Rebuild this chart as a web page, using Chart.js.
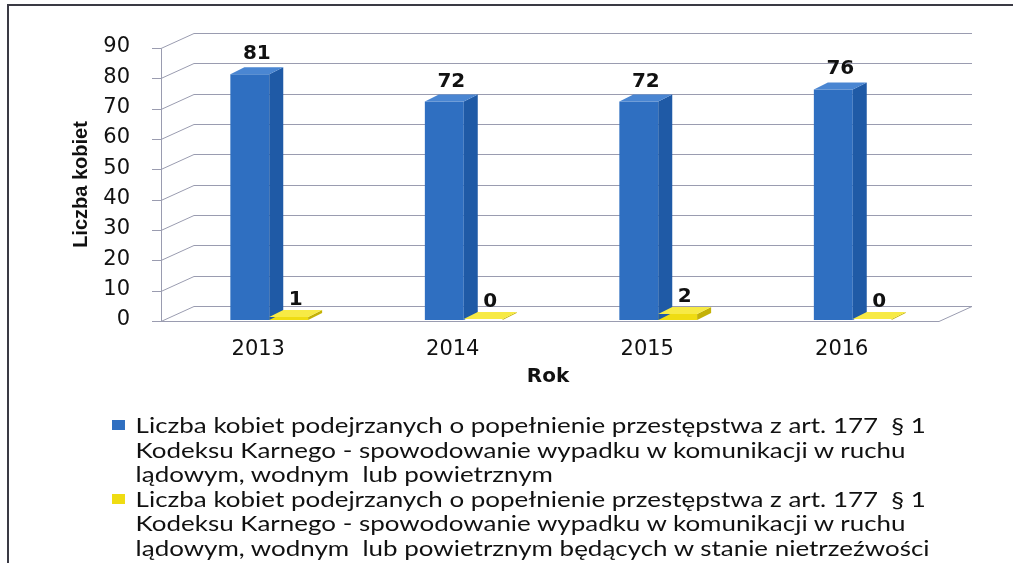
<!DOCTYPE html>
<html lang="pl">
<head>
<meta charset="utf-8">
<title>Liczba kobiet podejrzanych – art. 177 § 1 KK</title>
<script src="https://cdn.jsdelivr.net/npm/chart.js@4.4.1/dist/chart.umd.min.js"></script>
<style>
  html, body { margin: 0; padding: 0; background: #ffffff; }
  #wrap { position: relative; width: 1013px; height: 563px; overflow: hidden; }
  #frame { position: absolute; left: 7px; top: 4px; width: 1020px; height: 570px;
           border-top: 2px solid #3a3a44; border-left: 2px solid #3a3a44; }
  #legend { position: absolute; left: 112px; top: 413px; font-family: Lato, "Open Sans", sans-serif;
            font-size: 22px; line-height: 24.6px; color: #111;
            transform: scaleX(1.18); transform-origin: 0 0; }
  .item { position: relative; padding-left: 20px; white-space: pre; }
  .swatch { position: absolute; left: 0; top: 7px; width: 11px; height: 10px; }
</style>
</head>
<body>
<div id="wrap">
  <canvas id="chart" width="1013" height="563"></canvas>
  <div id="frame"></div>
  <div id="legend"></div>
</div>
<script>
// Lata i liczby kobiet podejrzanych
const years = ['2013', '2014', '2015', '2016'];
const suspectsAll = [81, 72, 72, 76];
const suspectsDrunk = [1, 0, 2, 0];
const yTicks = [0, 10, 20, 30, 40, 50, 60, 70, 80, 90];

const legendLines = [
  ['Liczba kobiet podejrzanych o popełnienie przestępstwa z art. 177  § 1',
   'Kodeksu Karnego - spowodowanie wypadku w komunikacji w ruchu',
   'lądowym, wodnym  lub powietrznym'],
  ['Liczba kobiet podejrzanych o popełnienie przestępstwa z art. 177  § 1',
   'Kodeksu Karnego - spowodowanie wypadku w komunikacji w ruchu',
   'lądowym, wodnym  lub powietrznym będących w stanie nietrzeźwości']
];

// front / side / top face colours for the pseudo-3D columns
const faces = [
  { front: '#2f6fc1', side: '#1f5aa6', top: '#4a86d2' },
  { front: '#efdc12', side: '#c4b208', top: '#f7ea45' }
];

// offsets of the front plane and back wall relative to the bar plane
const FRONT = { dx: -11, dy: 1 };
const BACK = { dx: 22, dy: -14 };
const BAR_DEPTH = { dx: 14, dy: -7 };
const GRID = '#9a9cb0';

const wallPlugin = {
  id: 'wall3d',
  beforeDatasetsDraw(chart) {
    const { ctx, chartArea: a, scales: { y } } = chart;
    ctx.save();
    ctx.strokeStyle = GRID;
    ctx.lineWidth = 1;
    ctx.beginPath();
    yTicks.forEach(v => {
      const py = Math.round(y.getPixelForValue(v)) + 0.5;
      // back wall line
      ctx.moveTo(a.left + BACK.dx, py + BACK.dy);
      ctx.lineTo(a.right + BACK.dx, py + BACK.dy);
      // side diagonal from the front axis
      ctx.moveTo(a.left + FRONT.dx, py + FRONT.dy);
      ctx.lineTo(a.left + BACK.dx, py + BACK.dy);
      // tick mark on the front axis
      ctx.moveTo(a.left + FRONT.dx - 9, py + FRONT.dy);
      ctx.lineTo(a.left + FRONT.dx, py + FRONT.dy);
    });
    const top = Math.round(y.getPixelForValue(yTicks[yTicks.length - 1])) + 0.5;
    const zero = Math.round(y.getPixelForValue(0)) + 0.5;
    // front vertical axis
    ctx.moveTo(a.left + FRONT.dx + 0.5, top + FRONT.dy);
    ctx.lineTo(a.left + FRONT.dx + 0.5, zero + FRONT.dy);
    // floor front edge and right side
    ctx.moveTo(a.left + FRONT.dx, zero + FRONT.dy);
    ctx.lineTo(a.right + FRONT.dx, zero + FRONT.dy);
    ctx.lineTo(a.right + BACK.dx, zero + BACK.dy);
    ctx.stroke();
    ctx.restore();
  },
  afterDatasetsDraw(chart) {
    const { ctx } = chart;
    ctx.save();
    chart.data.datasets.forEach((ds, di) => {
      const meta = chart.getDatasetMeta(di);
      const f = faces[di];
      meta.data.forEach((bar, i) => {
        const { x, y, base, width } = bar.getProps(['x', 'y', 'base', 'width'], true);
        const l = x - width / 2, r = x + width / 2;
        const t = Math.min(y, base - 1);
        // side face
        ctx.fillStyle = f.side;
        ctx.beginPath();
        ctx.moveTo(r, t);
        ctx.lineTo(r + BAR_DEPTH.dx, t + BAR_DEPTH.dy);
        ctx.lineTo(r + BAR_DEPTH.dx, base + BAR_DEPTH.dy);
        ctx.lineTo(r, base);
        ctx.closePath();
        ctx.fill();
        // top face
        ctx.fillStyle = f.top;
        ctx.beginPath();
        ctx.moveTo(l, t);
        ctx.lineTo(l + BAR_DEPTH.dx, t + BAR_DEPTH.dy);
        ctx.lineTo(r + BAR_DEPTH.dx, t + BAR_DEPTH.dy);
        ctx.lineTo(r, t);
        ctx.closePath();
        ctx.fill();
        // value label
        ctx.fillStyle = '#111';
        ctx.font = 'bold 20px "DejaVu Sans", sans-serif';
        ctx.textAlign = 'center';
        ctx.textBaseline = 'alphabetic';
        const lift = di === 0 ? 8 : 5;
        ctx.fillText(String(ds.data[i]), x + 7, t + BAR_DEPTH.dy - lift);
      });
    });
    ctx.restore();
  },
  afterDraw(chart) {
    const { ctx, chartArea: a } = chart;
    ctx.save();
    ctx.fillStyle = '#111';
    ctx.textAlign = 'center';
    ctx.textBaseline = 'middle';
    ctx.font = 'bold 20px "DejaVu Sans", sans-serif';
    ctx.fillText('Rok', (a.left + a.right) / 2 - 13, 377);
    ctx.translate(81, (a.top + a.bottom) / 2 + 1);
    ctx.rotate(-Math.PI / 2);
    ctx.font = 'bold 20px "Liberation Sans Narrow", "Liberation Sans", sans-serif';
    ctx.fillText('Liczba kobiet', 0, 0);
    ctx.restore();
  }
};

new Chart(document.getElementById('chart'), {
  type: 'bar',
  data: {
    labels: years,
    datasets: [
      { label: legendLines[0].join(' '), data: suspectsAll, backgroundColor: faces[0].front,
        categoryPercentage: 0.4, barPercentage: 1.0 },
      { label: legendLines[1].join(' '), data: suspectsDrunk, backgroundColor: faces[1].front,
        categoryPercentage: 0.4, barPercentage: 1.0, minBarLength: 0 }
    ]
  },
  options: {
    responsive: false,
    animation: false,
    layout: { padding: { left: 0, top: 47, right: 63, bottom: 0 } },
    plugins: { legend: { display: false }, tooltip: { enabled: false } },
    scales: {
      x: {
        grid: { display: false },
        border: { display: false },
        ticks: { color: '#111', font: { family: '"DejaVu Sans", sans-serif', size: 21 },
                 padding: 9, labelOffset: -11, maxRotation: 0 },
        afterFit(s) { s.height = 243; }
      },
      y: {
        min: 0, max: 90,
        grid: { display: false },
        border: { display: false },
        afterBuildTicks(s) { s.ticks = yTicks.map(v => ({ value: v })); },
        ticks: { color: '#111', font: { family: '"DejaVu Sans", sans-serif', size: 21 },
                 padding: 34 },
        afterFit(s) { s.width = 172; }
      }
    }
  },
  plugins: [wallPlugin]
});

// legend under the chart
const legendEl = document.getElementById('legend');
legendLines.forEach((lines, i) => {
  const item = document.createElement('div');
  item.className = 'item';
  const sw = document.createElement('span');
  sw.className = 'swatch';
  sw.style.background = faces[i].front;
  item.appendChild(sw);
  item.appendChild(document.createTextNode(lines.join('\n')));
  legendEl.appendChild(item);
});
</script>
</body>
</html>
